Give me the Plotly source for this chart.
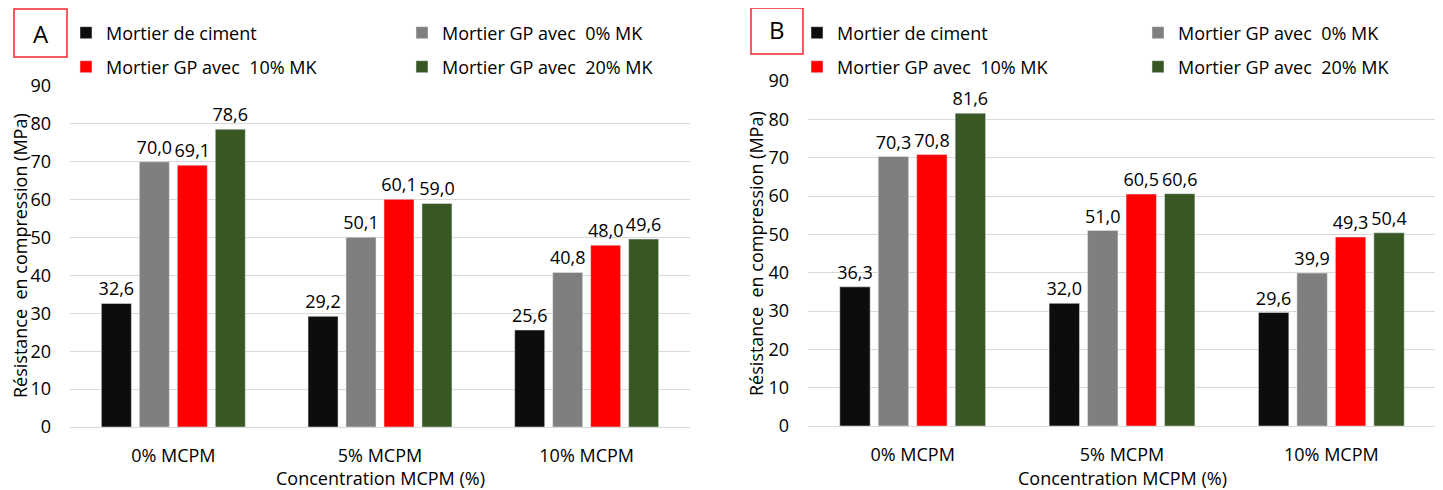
import plotly.graph_objects as go

categories = ["0% MCPM", "5% MCPM", "10% MCPM"]
series_names = [
    "Mortier de ciment",
    "Mortier GP avec\u00a0 0% MK",
    "Mortier GP avec\u00a0 10% MK",
    "Mortier GP avec\u00a0 20% MK",
]
colors = ["#0D0D0D", "#7F7F7F", "#FF0000", "#385723"]

# panel A
a_ciment = [32.6, 29.2, 25.6]
a_gp0 = [70.0, 50.1, 40.8]
a_gp10 = [69.1, 60.1, 48.0]
a_gp20 = [78.6, 59.0, 49.6]

# panel B
b_ciment = [36.3, 32.0, 29.6]
b_gp0 = [70.3, 51.0, 39.9]
b_gp10 = [70.8, 60.5, 49.3]
b_gp20 = [81.6, 60.6, 50.4]

y_ticks = [0, 10, 20, 30, 40, 50, 60, 70, 80, 90]

# the page body has an 8px margin: the figure starts at (8, 8) in the window
OFF = 8
W, H = 1443 - OFF, 490 - OFF
FONT = "Open Sans"
FS = 18


def px_x(p):
    return min(1.0, max(0.0, (p - OFF) / W))


def px_y(p):
    return min(1.0, max(0.0, 1 - (p - OFF) / H))


fig = go.Figure()

panels = [
    ("x", "y", [a_ciment, a_gp0, a_gp10, a_gp20], ["legend", "legend", "legend2", "legend2"]),
    ("x2", "y2", [b_ciment, b_gp0, b_gp10, b_gp20], ["legend3", "legend3", "legend4", "legend4"]),
]

for xa, ya, vals, legs in panels:
    for name, col, v, lg in zip(series_names, colors, vals, legs):
        fig.add_trace(go.Bar(
            x=categories, y=v, name=name, marker_color=col,
            xaxis=xa, yaxis=ya, legend=lg,
            texttemplate="%{y:.1f}", textposition="outside",
            constraintext="none",
            textfont=dict(size=FS, color="#000000", family=FONT),
            cliponaxis=False,
        ))

axis_common = dict(
    showgrid=True, gridcolor="#D9D9D9", gridwidth=1,
    showline=False, zeroline=False, ticks="",
    tickfont=dict(size=FS, color="#000000", family=FONT),
)

fig.update_layout(
    width=W, height=H,
    margin=dict(l=0, r=0, t=0, b=0, autoexpand=False),
    paper_bgcolor="white", plot_bgcolor="white",
    separators=",.",
    barmode="group", bargap=0.265, bargroupgap=0.21,
    font=dict(family=FONT, size=FS, color="#000000"),
    xaxis=dict(domain=[px_x(70), px_x(690)], anchor="y", showgrid=False,
               showline=True, linecolor="#D9D9D9", ticks="",
               ticklabelstandoff=12,
               tickfont=dict(size=FS, color="#000000", family=FONT)),
    yaxis=dict(domain=[px_y(427), px_y(86)], anchor="x", range=[0, 90],
               tickvals=y_ticks, ticklabelstandoff=18, **axis_common),
    xaxis2=dict(domain=[px_x(808), px_x(1436)], anchor="y2", showgrid=False,
                showline=True, linecolor="#D9D9D9", ticks="",
                ticklabelstandoff=12,
                tickfont=dict(size=FS, color="#000000", family=FONT)),
    yaxis2=dict(domain=[px_y(426), px_y(81)], anchor="x2", range=[0, 90],
                tickvals=y_ticks, ticklabelstandoff=18, **axis_common),
)

leg_common = dict(
    orientation="h", xref="paper", yref="paper", yanchor="middle",
    xanchor="left", bgcolor="rgba(255,255,255,0)", borderwidth=0,
    font=dict(size=FS, color="#000000", family=FONT),
    itemclick=False, itemdoubleclick=False,
)
fig.update_layout(
    legend=dict(x=px_x(66), y=px_y(33), entrywidth=291, **leg_common),
    legend2=dict(x=px_x(66), y=px_y(67), entrywidth=291, **leg_common),
    legend3=dict(x=px_x(797), y=px_y(33), entrywidth=296, **leg_common),
    legend4=dict(x=px_x(797), y=px_y(67), entrywidth=296, **leg_common),
)

# B legend covers the top gridline
fig.add_shape(type="rect", xref="x2 domain", yref="y2",
              x0=0, x1=(1403 - 808) / 628, y0=88.5, y1=91.5,
              fillcolor="white", line_width=0, layer="above")

# panel letters
for x0, y0, x1, y1, lab in [(14, 9, 67, 57, "A"), (751, 5, 803, 54, "B")]:
    fig.add_shape(type="rect", xref="paper", yref="paper",
                  x0=px_x(x0), x1=px_x(x1), y0=px_y(y1), y1=px_y(y0),
                  line=dict(color="#F0282D", width=1.5), fillcolor="white")
    fig.add_annotation(text=lab, xref="paper", yref="paper",
                       x=px_x((x0 + x1) / 2), y=px_y((y0 + y1) / 2),
                       showarrow=False, font=dict(size=24, color="#000000", family=FONT),
                       xanchor="center", yanchor="middle")

# axis titles
for xc, yc in [(20, 256), (756, 254)]:
    fig.add_annotation(text="Résistance\u00a0 en compression (MPa)", xref="paper", yref="paper",
                       x=px_x(xc), y=px_y(yc), textangle=-90, showarrow=False,
                       xanchor="center", yanchor="middle", borderpad=0,
                       font=dict(size=FS, color="#000000", family=FONT))
for xc in [380, 1122]:
    fig.add_annotation(text="Concentration MCPM (%)", xref="paper", yref="paper",
                       x=px_x(xc), y=px_y(478), showarrow=False,
                       xanchor="center", yanchor="middle",
                       font=dict(size=FS, color="#000000", family=FONT))

fig.write_html("out.html")
